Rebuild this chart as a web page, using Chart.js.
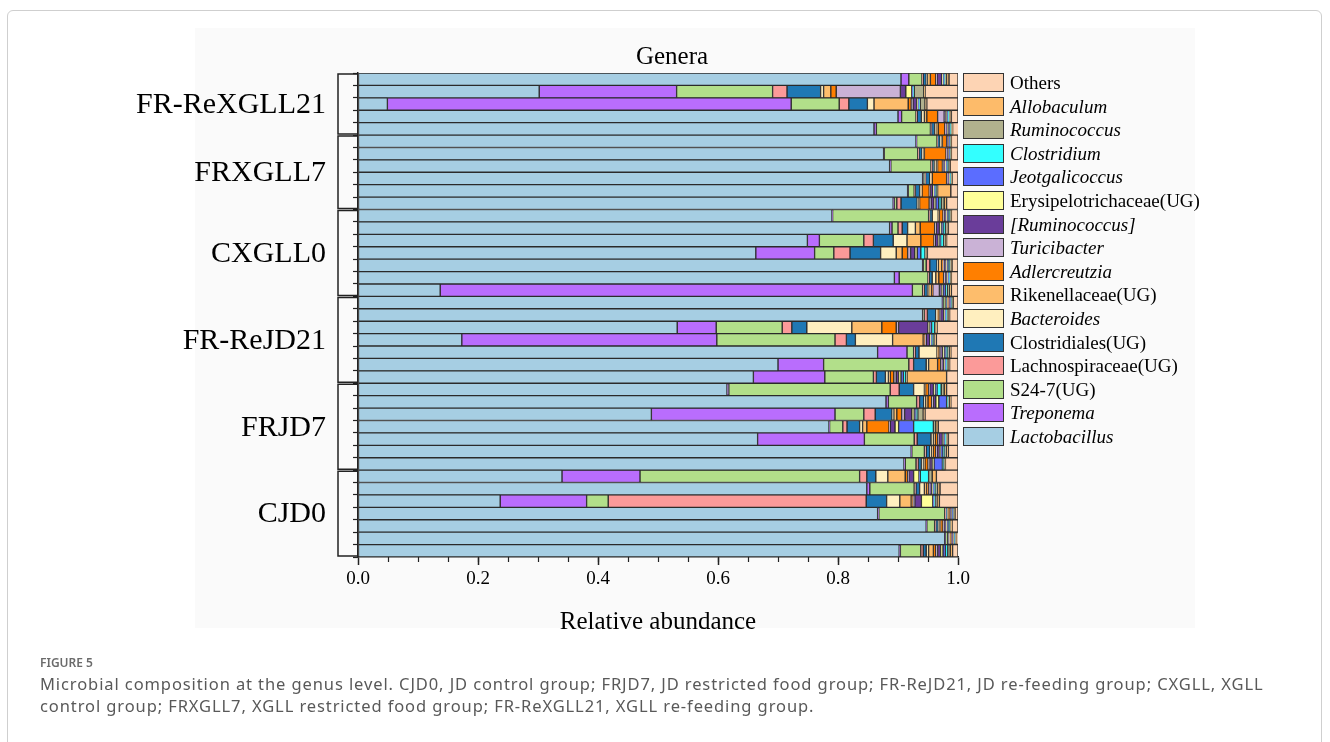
<!DOCTYPE html>
<html>
<head>
<meta charset="utf-8">
<title>Genera</title>
<script src="https://cdn.jsdelivr.net/npm/chart.js@4.4.1/dist/chart.umd.min.js"></script>
<style>
    html, body { margin: 0; padding: 0; background: #fff; }
    body { width: 1330px; height: 742px; position: relative; overflow: hidden; font-family: "Noto Sans", "Open Sans", sans-serif; }
    #frame { position: absolute; left: 7px; top: 10px; width: 1313px; height: 800px; border: 1px solid #cfcfcf; border-radius: 6px; }
    #panel { position: absolute; left: 195px; top: 28px; width: 1000px; height: 600px; background: #fafafa; }
    #chart { position: absolute; left: 0; top: 0; }
    #legend { position: absolute; left: 963px; top: 73px; font-family: "Liberation Serif", "Times New Roman", serif; font-size: 19px; color: #000; }
    .item { height: 23.6px; position: relative; white-space: nowrap; }
    .box { position: absolute; left: 0; top: 0; width: 39px; height: 17px; border: 1.5px solid #333; }
    .name { position: absolute; left: 47px; top: 0; line-height: 20px; }
    #figno { position: absolute; left: 40px; top: 654px; font-size: 12px; font-weight: 600; line-height: 18px; color: #6b6b6b; }
    #caption { position: absolute; left: 40px; top: 673px; font-size: 16.5px; letter-spacing: 0.9px; line-height: 22px; color: #595959; white-space: nowrap; }
</style>
</head>
<body>
<div id="frame"></div>
<div id="panel"></div>
<canvas id="chart" width="1330" height="742"></canvas>
<div id="legend"></div>
<div id="figno">FIGURE 5</div>
<div id="caption">Microbial composition at the genus level. CJD0, JD control group; FRJD7, JD restricted food group; FR-ReJD21, JD re-feeding group; CXGLL, XGLL<br>control group; FRXGLL7, XGLL restricted food group; FR-ReXGLL21, XGLL re-feeding group.</div>

<script>
// groups, top to bottom, and how many samples each one has
const groupNames = ["FR-ReXGLL21", "FRXGLL7", "CXGLL0", "FR-ReJD21", "FRJD7", "CJD0"];
const groupSizes = [5, 6, 7, 7, 7, 7];

const xTicks = [0, 0.2, 0.4, 0.6, 0.8, 1.0];

// relative abundance per sample (one line per group)
const lactobacillus = [
    0.905, 0.302, 0.049, 0.900, 0.860,
    0.930, 0.876, 0.886, 0.941, 0.916, 0.892,
    0.790, 0.886, 0.749, 0.663, 0.941, 0.894, 0.137,
    0.974, 0.941, 0.532, 0.173, 0.866, 0.700, 0.659,
    0.615, 0.880, 0.489, 0.785, 0.666, 0.922, 0.910,
    0.340, 0.848, 0.237, 0.866, 0.947, 0.978, 0.902
];
const treponema = [
    0.013, 0.229, 0.673, 0.006, 0.004,
    0.001, 0.001, 0.002, 0.001, 0.001, 0.002,
    0.001, 0.004, 0.020, 0.098, 0.001, 0.008, 0.787,
    0.001, 0.001, 0.065, 0.425, 0.049, 0.076, 0.119,
    0.003, 0.004, 0.306, 0.001, 0.178, 0.001, 0.002,
    0.130, 0.005, 0.144, 0.002, 0.001, 0.001, 0.002
];
const s24_7 = [
    0.022, 0.160, 0.080, 0.024, 0.090,
    0.034, 0.056, 0.067, 0.003, 0.010, 0.004,
    0.160, 0.010, 0.074, 0.032, 0.005, 0.048, 0.017,
    0.004, 0.002, 0.110, 0.197, 0.011, 0.142, 0.081,
    0.269, 0.047, 0.048, 0.022, 0.083, 0.021, 0.018,
    0.366, 0.074, 0.036, 0.110, 0.013, 0.004, 0.034
];
const lachnospiraceae = [
    0.002, 0.024, 0.016, 0.002, 0.002,
    0.001, 0.002, 0.002, 0.001, 0.002, 0.007,
    0.002, 0.007, 0.016, 0.027, 0.006, 0.002, 0.003,
    0.001, 0.005, 0.016, 0.019, 0.003, 0.008, 0.005,
    0.015, 0.005, 0.019, 0.007, 0.005, 0.003, 0.004,
    0.012, 0.003, 0.430, 0.002, 0.002, 0.001, 0.004
];
const clostridiales = [
    0.005, 0.056, 0.031, 0.007, 0.005,
    0.004, 0.005, 0.003, 0.007, 0.007, 0.027,
    0.004, 0.009, 0.033, 0.051, 0.012, 0.005, 0.005,
    0.001, 0.014, 0.025, 0.015, 0.006, 0.021, 0.015,
    0.024, 0.007, 0.028, 0.021, 0.023, 0.006, 0.005,
    0.015, 0.006, 0.034, 0.002, 0.004, 0.001, 0.005
];
const bacteroides = [
    0.002, 0.005, 0.011, 0.005, 0.002,
    0.002, 0.002, 0.004, 0.002, 0.002, 0.002,
    0.010, 0.013, 0.023, 0.026, 0.002, 0.006, 0.002,
    0.001, 0.002, 0.075, 0.062, 0.030, 0.004, 0.005,
    0.018, 0.003, 0.003, 0.005, 0.004, 0.003, 0.003,
    0.020, 0.008, 0.022, 0.001, 0.002, 0.001, 0.004
];
const rikenellaceae = [
    0.005, 0.012, 0.057, 0.004, 0.004,
    0.002, 0.002, 0.002, 0.002, 0.002, 0.002,
    0.002, 0.008, 0.023, 0.010, 0.006, 0.005, 0.005,
    0.001, 0.002, 0.050, 0.051, 0.002, 0.015, 0.003,
    0.002, 0.004, 0.005, 0.007, 0.003, 0.003, 0.003,
    0.029, 0.004, 0.019, 0.001, 0.002, 0.001, 0.008
];
const adlercreutzia = [
    0.009, 0.009, 0.005, 0.018, 0.011,
    0.007, 0.036, 0.008, 0.024, 0.012, 0.016,
    0.006, 0.024, 0.022, 0.009, 0.002, 0.008, 0.002,
    0.001, 0.002, 0.024, 0.003, 0.002, 0.005, 0.006,
    0.005, 0.006, 0.008, 0.037, 0.004, 0.004, 0.005,
    0.004, 0.003, 0.003, 0.002, 0.004, 0.002, 0.004
];
const turicibacter = [
    0.002, 0.107, 0.003, 0.011, 0.002,
    0.001, 0.002, 0.002, 0.002, 0.002, 0.003,
    0.002, 0.003, 0.002, 0.005, 0.002, 0.003, 0.011,
    0.001, 0.002, 0.004, 0.002, 0.002, 0.002, 0.004,
    0.002, 0.003, 0.005, 0.002, 0.002, 0.002, 0.003,
    0.002, 0.002, 0.003, 0.001, 0.002, 0.001, 0.003
];
const ruminococcusBr = [
    0.008, 0.009, 0.006, 0.002, 0.002,
    0.002, 0.002, 0.002, 0.002, 0.004, 0.005,
    0.003, 0.005, 0.005, 0.007, 0.003, 0.002, 0.003,
    0.001, 0.005, 0.049, 0.006, 0.003, 0.003, 0.004,
    0.006, 0.004, 0.012, 0.008, 0.006, 0.004, 0.004,
    0.008, 0.003, 0.011, 0.002, 0.003, 0.002, 0.005
];
const erysipelotrichaceae = [
    0.002, 0.010, 0.002, 0.002, 0.002,
    0.001, 0.001, 0.002, 0.001, 0.002, 0.003,
    0.002, 0.003, 0.002, 0.004, 0.002, 0.002, 0.003,
    0.001, 0.002, 0.003, 0.002, 0.003, 0.002, 0.004,
    0.003, 0.005, 0.004, 0.006, 0.002, 0.002, 0.003,
    0.009, 0.002, 0.019, 0.001, 0.002, 0.001, 0.004
];
const jeotgalicoccus = [
    0.001, 0.002, 0.002, 0.002, 0.002,
    0.001, 0.001, 0.002, 0.001, 0.002, 0.005,
    0.002, 0.003, 0.002, 0.006, 0.002, 0.002, 0.004,
    0.001, 0.002, 0.003, 0.002, 0.003, 0.002, 0.004,
    0.003, 0.013, 0.003, 0.025, 0.002, 0.004, 0.014,
    0.002, 0.002, 0.002, 0.001, 0.002, 0.001, 0.004
];
const clostridium = [
    0.002, 0.002, 0.002, 0.002, 0.002,
    0.001, 0.001, 0.002, 0.001, 0.002, 0.004,
    0.002, 0.004, 0.005, 0.007, 0.002, 0.002, 0.003,
    0.001, 0.002, 0.005, 0.002, 0.003, 0.002, 0.004,
    0.007, 0.002, 0.003, 0.033, 0.002, 0.003, 0.002,
    0.014, 0.003, 0.002, 0.001, 0.002, 0.001, 0.004
];
const ruminococcus = [
    0.003, 0.016, 0.008, 0.002, 0.002,
    0.001, 0.001, 0.002, 0.001, 0.002, 0.005,
    0.002, 0.003, 0.003, 0.002, 0.003, 0.001, 0.004,
    0.002, 0.002, 0.002, 0.002, 0.003, 0.002, 0.002,
    0.005, 0.003, 0.009, 0.004, 0.002, 0.003, 0.002,
    0.006, 0.003, 0.003, 0.002, 0.002, 0.002, 0.004
];
const allobaculum = [
    0.004, 0.002, 0.003, 0.002, 0.001,
    0.001, 0.001, 0.001, 0.001, 0.022, 0.004,
    0.001, 0.002, 0.002, 0.002, 0.001, 0.001, 0.003,
    0.001, 0.002, 0.002, 0.003, 0.002, 0.002, 0.066,
    0.004, 0.002, 0.003, 0.004, 0.002, 0.003, 0.001,
    0.007, 0.004, 0.004, 0.001, 0.002, 0.001, 0.004
];
const others = [
    0.015, 0.055, 0.052, 0.011, 0.011,
    0.011, 0.011, 0.015, 0.010, 0.012, 0.019,
    0.011, 0.016, 0.019, 0.051, 0.010, 0.011, 0.011,
    0.008, 0.014, 0.035, 0.036, 0.012, 0.014, 0.019,
    0.019, 0.012, 0.055, 0.033, 0.016, 0.016, 0.021,
    0.036, 0.030, 0.031, 0.005, 0.010, 0.002, 0.009
];

// stacking order, left to right
const series = [
    { name: "Lactobacillus", values: lactobacillus, color: "#a6cee3" },
    { name: "Treponema", values: treponema, color: "#b96dfd" },
    { name: "S24-7(UG)", values: s24_7, color: "#b2df8a" },
    { name: "Lachnospiraceae(UG)", values: lachnospiraceae, color: "#fb9a99" },
    { name: "Clostridiales(UG)", values: clostridiales, color: "#1f78b4" },
    { name: "Bacteroides", values: bacteroides, color: "#ffefbf" },
    { name: "Rikenellaceae(UG)", values: rikenellaceae, color: "#fdbd6c" },
    { name: "Adlercreutzia", values: adlercreutzia, color: "#ff7f00" },
    { name: "Turicibacter", values: turicibacter, color: "#cab2d6" },
    { name: "[Ruminococcus]", values: ruminococcusBr, color: "#6a3d9a" },
    { name: "Erysipelotrichaceae(UG)", values: erysipelotrichaceae, color: "#ffff99" },
    { name: "Jeotgalicoccus", values: jeotgalicoccus, color: "#5b6dff" },
    { name: "Clostridium", values: clostridium, color: "#33ffff" },
    { name: "Ruminococcus", values: ruminococcus, color: "#b1b18e" },
    { name: "Allobaculum", values: allobaculum, color: "#fdbb6a" },
    { name: "Others", values: others, color: "#fdd4b4" }
];

document.addEventListener("DOMContentLoaded", function() {
    const serif = "'Liberation Serif', 'Times New Roman', serif";

    // one label per sample, e.g. "CJD0-3"
    let sampleLabels = [];
    groupNames.forEach((g, i) => {
        for (let k = 1; k <= groupSizes[i]; k++) sampleLabels.push(g + "-" + k);
    });

    const datasets = series.map(s => ({
        label: s.name,
        data: s.values,
        backgroundColor: s.color,
        borderColor: "#2b2b2b",
        borderWidth: 1,
        borderSkipped: false,
        barPercentage: 1.0,
        categoryPercentage: 1.0
    }));

    // brackets, group names, title, axis title and minor ticks
    const decorations = {
        id: "decorations",
        afterDraw(chart) {
            const ctx = chart.ctx;
            const area = chart.chartArea;
            const x = chart.scales.x;
            const y = chart.scales.y;
            const half = (y.getPixelForValue(1) - y.getPixelForValue(0)) / 2;

            ctx.save();
            ctx.strokeStyle = "#222";
            ctx.lineWidth = 1.5;
            let start = 0;
            groupNames.forEach((g, i) => {
                const top = y.getPixelForValue(start) - half + 1;
                const bottom = y.getPixelForValue(start + groupSizes[i] - 1) + half - 1;
                ctx.beginPath();
                ctx.moveTo(area.left, top);
                ctx.lineTo(338, top);
                ctx.lineTo(338, bottom);
                ctx.lineTo(area.left, bottom);
                ctx.stroke();

                ctx.fillStyle = "#000";
                ctx.font = "30px " + serif;
                ctx.textAlign = "right";
                ctx.textBaseline = "middle";
                ctx.fillText(g, 326, (top + bottom) / 2 + 1);
                start += groupSizes[i];
            });

            // minor ticks every 0.05
            ctx.lineWidth = 1.2;
            for (let v = 0.05; v < 1; v += 0.05) {
                const px = Math.round(x.getPixelForValue(v)) + 0.5;
                ctx.beginPath();
                ctx.moveTo(px, area.bottom);
                ctx.lineTo(px, area.bottom + 5);
                ctx.stroke();
            }

            ctx.fillStyle = "#000";
            ctx.textAlign = "center";
            ctx.textBaseline = "middle";
            ctx.font = "25px " + serif;
            ctx.fillText("Genera", 672, 57);
            ctx.fillText("Relative abundance", (area.left + area.right) / 2, 622);
            ctx.restore();
        }
    };

    const ctx = document.getElementById("chart").getContext("2d");
    new Chart(ctx, {
        type: "bar",
        data: { labels: sampleLabels, datasets: datasets },
        options: {
            indexAxis: "y",
            responsive: false,
            animation: false,
            layout: { padding: { left: 0, right: 372, top: 73, bottom: 0 } },
            scales: {
                x: {
                    stacked: true,
                    min: 0,
                    max: 1,
                    afterFit: s => { s.height = 185; },
                    afterBuildTicks: s => { s.ticks = xTicks.map(v => ({ value: v })); },
                    ticks: {
                        callback: v => Number(v).toFixed(1),
                        color: "#000",
                        font: { family: serif, size: 19 },
                        padding: 3,
                        maxRotation: 0
                    },
                    grid: { drawOnChartArea: false, tickLength: 8, tickColor: "#222", tickWidth: 1.5 },
                    border: { color: "#222", width: 1.5 }
                },
                y: {
                    stacked: true,
                    afterFit: s => { s.width = 358; },
                    ticks: { display: false },
                    grid: { drawOnChartArea: false, tickLength: 5, tickColor: "#222", tickWidth: 1.2 },
                    border: { color: "#222", width: 1.5 }
                }
            },
            plugins: {
                legend: { display: false },
                tooltip: { enabled: false }
            }
        },
        plugins: [decorations]
    });

    // legend on the right, top to bottom is the reverse of the stack order
    const legend = document.getElementById("legend");
    series.slice().reverse().forEach(s => {
        const item = document.createElement("div");
        item.className = "item";
        const box = document.createElement("div");
        box.className = "box";
        box.style.background = s.color;
        const name = document.createElement("div");
        name.className = "name";
        name.textContent = s.name;
        if (!s.name.includes("(UG)") && s.name !== "Others") name.style.fontStyle = "italic";
        item.appendChild(box);
        item.appendChild(name);
        legend.appendChild(item);
    });
});
</script>
</body>
</html>
